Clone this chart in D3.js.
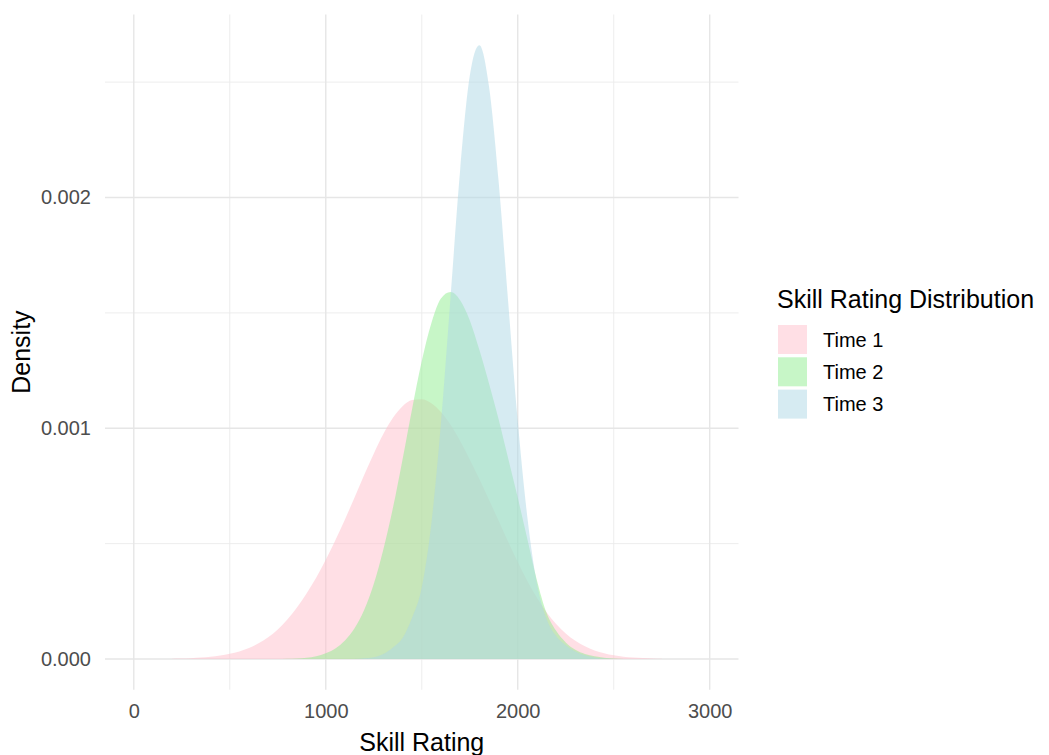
<!DOCTYPE html>
<html>
<head>
<meta charset="utf-8">
<script src="https://cdn.jsdelivr.net/npm/d3@7/dist/d3.min.js"></script>
<style>
  html, body { margin: 0; padding: 0; background: #ffffff; }
  svg { display: block; font-family: "Liberation Sans", Arial, sans-serif; }
</style>
</head>
<body>
<svg id="chart" width="1049" height="755"></svg>
<script>
// ---- Data ----
const ratings = [200,250,300,350,400,450,500,550,600,650,700,750,800,850,900,950,1000,1050,1100,1150,1200,1250,1300,1350,1400,1450,1500,1550,1600,1650,1700,1750,1800,1850,1900,1950,2000,2050,2100,2150,2200,2250,2300,2350,2400,2450,2500,2550,2600,2650,2700,2750];

const time1 = [0.0000014,0.0000023,0.0000038,0.0000061,0.0000097,0.0000148,0.0000224,0.000033,0.000048,0.000068,0.000094,0.000128,0.000171,0.000223,0.000284,0.000352,0.00043,0.000515,0.000605,0.0007,0.000797,0.00089,0.000975,0.001045,0.001095,0.001122,0.001126,0.001108,0.00107,0.001015,0.000945,0.000865,0.00078,0.00069,0.0006,0.000508,0.00042,0.000338,0.000265,0.000203,0.000152,0.000111,0.000079,0.000055,0.000037,0.000025,0.000016,0.00001,0.0000065,0.000004,0.0000025,0.0000015];

const time2 = [0,0,0,0,0,0,0,0,0,0,0,0,0.000001,0.0000025,0.0000055,0.000012,0.000025,0.000046,0.00008,0.000133,0.000212,0.000325,0.000475,0.000655,0.000865,0.001085,0.00129,0.001455,0.001562,0.00159,0.001555,0.001468,0.00134,0.001195,0.00104,0.00087,0.0007,0.00052,0.00034,0.0002,0.000122,0.000072,0.00004,0.000022,0.000012,0.000006,0.000002,0,0,0,0,0];

const time3 = [0,0,0,0,0,0,0,0,0,0,0,0,0,0,0,0,0,0,0,0,0.000003,0.000008,0.000022,0.00005,0.000091,0.00018,0.00031,0.000587,0.001022,0.001567,0.002118,0.002526,0.00266,0.002483,0.002074,0.001548,0.001031,0.000615,0.000327,0.000174,0.0000994,0.0000595,0.0000323,0.000016,0.000007,0.000002,0,0,0,0,0,0];

const seriesNames = ["Time 1", "Time 2", "Time 3"];
const seriesValues = [time1, time2, time3];
const fillColors = ["pink", "lightgreen", "lightblue"];

const xTicks = [0, 1000, 2000, 3000];
const xMinorTicks = [500, 1500, 2500];
const yTicks = [0, 0.001, 0.002];
const yMinorTicks = [0.0005, 0.0015, 0.0025];

const xTitle = "Skill Rating";
const yTitle = "Density";
const legendTitle = "Skill Rating Distribution";

// ---- Layout ----
const svg = d3.select("#chart");
const panel = { left: 105, right: 738.5, top: 14.5, bottom: 689.7 };

const xLim = [0, 3000];
const xPad = 0.05 * (xLim[1] - xLim[0]);
const x = d3.scaleLinear().domain([xLim[0] - xPad, xLim[1] + xPad]).range([panel.left, panel.right]);

const yMax = d3.max(seriesValues.flat());
const yPad = 0.05 * yMax;
const y = d3.scaleLinear().domain([-yPad, yMax + yPad]).range([panel.bottom, panel.top]);

// ---- Grid ----
const grid = svg.append("g");
grid.selectAll(".xminor").data(xMinorTicks).join("line")
  .attr("x1", d => x(d)).attr("x2", d => x(d))
  .attr("y1", panel.top).attr("y2", panel.bottom)
  .attr("stroke", "#ebebeb").attr("stroke-width", 0.9);
grid.selectAll(".yminor").data(yMinorTicks).join("line")
  .attr("x1", panel.left).attr("x2", panel.right)
  .attr("y1", d => y(d)).attr("y2", d => y(d))
  .attr("stroke", "#ebebeb").attr("stroke-width", 0.9);
grid.selectAll(".xmajor").data(xTicks).join("line")
  .attr("x1", d => x(d)).attr("x2", d => x(d))
  .attr("y1", panel.top).attr("y2", panel.bottom)
  .attr("stroke", "#e6e6e6").attr("stroke-width", 1.4);
grid.selectAll(".ymajor").data(yTicks).join("line")
  .attr("x1", panel.left).attr("x2", panel.right)
  .attr("y1", d => y(d)).attr("y2", d => y(d))
  .attr("stroke", "#e6e6e6").attr("stroke-width", 1.4);

// ---- Density areas ----
const area = d3.area()
  .x((d, i) => x(ratings[i]))
  .y0(y(0))
  .y1(d => y(d))
  .curve(d3.curveMonotoneX);

svg.append("g").selectAll("path").data(seriesValues).join("path")
  .attr("d", d => area(d))
  .attr("fill", (d, i) => fillColors[i])
  .attr("fill-opacity", 0.5)
  .attr("stroke", "none");

// ---- Axes ----
const xAxis = svg.append("g")
  .attr("transform", `translate(0,${panel.bottom})`)
  .call(d3.axisBottom(x).tickValues(xTicks).tickFormat(d3.format("d")).tickSize(0).tickPadding(14));
xAxis.select(".domain").remove();
xAxis.selectAll("text").attr("font-size", 20).attr("fill", "#4d4d4d")
  .attr("font-family", "Liberation Sans, Arial, sans-serif");

const yAxis = svg.append("g")
  .attr("transform", `translate(${panel.left},0)`)
  .call(d3.axisLeft(y).tickValues(yTicks).tickFormat(d3.format(".3f")).tickSize(0).tickPadding(14));
yAxis.select(".domain").remove();
yAxis.selectAll("text").attr("font-size", 20).attr("fill", "#4d4d4d")
  .attr("font-family", "Liberation Sans, Arial, sans-serif");

// ---- Axis titles ----
svg.append("text")
  .attr("x", (panel.left + panel.right) / 2).attr("y", 751)
  .attr("text-anchor", "middle").attr("font-size", 25).attr("fill", "#000")
  .text(xTitle);

svg.append("text")
  .attr("transform", `translate(30,${(panel.top + panel.bottom) / 2}) rotate(-90)`)
  .attr("text-anchor", "middle").attr("font-size", 25).attr("fill", "#000")
  .text(yTitle);

// ---- Legend ----
const legend = svg.append("g").attr("transform", "translate(777,0)");
legend.append("text").attr("x", 0).attr("y", 308)
  .attr("font-size", 25).attr("fill", "#000").text(legendTitle);

const keySize = 29, keyPitch = 32.3, keyTop = 325;
const items = legend.selectAll(".item").data(seriesNames).join("g")
  .attr("transform", (d, i) => `translate(1,${keyTop + i * keyPitch})`);
items.append("rect")
  .attr("width", keySize).attr("height", keySize)
  .attr("fill", (d, i) => fillColors[i]).attr("fill-opacity", 0.5);
items.append("text")
  .attr("x", 45).attr("y", keySize / 2).attr("dy", "0.36em")
  .attr("font-size", 20).attr("fill", "#000").text(d => d);
</script>
</body>
</html>
